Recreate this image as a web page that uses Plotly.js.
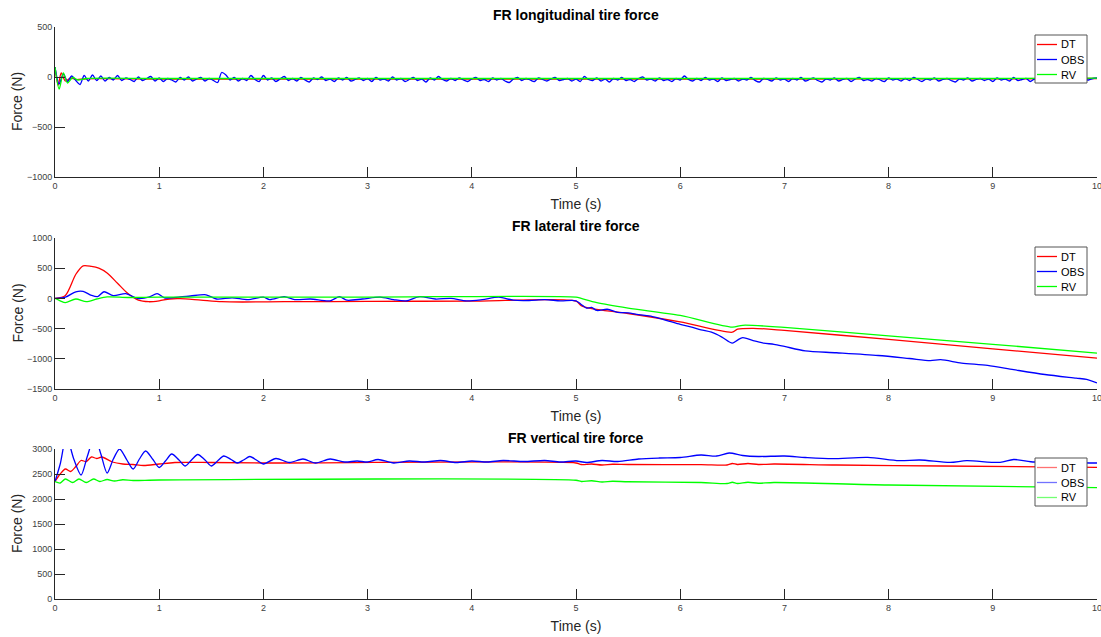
<!DOCTYPE html>
<html>
<head>
<meta charset="utf-8">
<script src="https://cdn.plot.ly/plotly-3.0.1.min.js"></script>
<style>html,body{margin:0;padding:0;background:#fff}#chart{width:1101px;height:637px}</style>
</head>
<body>
<div id="chart"></div>
<script>
// ---------- Panel 1: FR longitudinal tire force ----------
var p1_dt_t = [0, 0.03, 0.06, 0.1, 0.15, 0.2, 0.3, 1, 3, 5, 7, 9, 10];
var p1_dt_v = [100, -80, 40, -40, -10, -25, -18, -20, -20, -20, -20, -18, -15];
var p1_rv_t = [0, 0.04, 0.08, 0.12, 0.17, 0.22, 0.3, 1, 3, 5, 7, 9, 10];
var p1_rv_v = [100, -120, 40, -60, -5, -30, -15, -15, -15, -15, -15, -15, -12];
var p1_obs_dt = 0.04;
var p1_obs_v = [
 100,-70,30,-45,10,-35,-75,15,-40,20,-35,10,-40,-5,-30,15,-35,-10,-25,-45,0,-35,-15,5,-40,
 -10,-45,-15,-30,-50,-5,-30,0,-40,-20,-5,-40,-15,-35,-55,45,20,-30,-5,-40,-15,-35,15,-25,-45,
 15,-30,-10,-45,-20,5,-35,-15,-40,-5,-30,-50,-10,-25,0,-35,-20,-45,-10,-30,-5,-40,-25,-10,-35,
 -15,-45,-5,-30,-20,-40,0,-30,-15,-45,-25,-5,-35,-20,-50,-10,-30,5,-25,-40,-15,-35,-10,-30,-45,
 -20,-5,-35,-25,-45,-10,-30,-15,-40,-55,-20,-5,-35,-15,-30,-45,-10,-25,-40,-20,-5,-35,-25,-15,-40,
 -20,-45,5,-25,-35,-10,-40,-20,-50,-15,-30,-5,-35,-25,-45,-15,0,-30,-20,-40,-10,-35,-25,-45,-15,
 -30,10,-25,-40,-15,-35,-5,-30,-20,-45,-10,-35,-25,-15,-40,-20,-30,-5,-35,-50,-15,-25,-40,-10,-30,
 -20,-45,-15,-30,-5,-40,-25,-10,-35,-50,-20,-30,-10,-40,-25,-15,-45,-20,-5,-35,-25,-40,-15,-30,-45,
 -10,-30,-20,-40,-15,-35,-5,-25,-45,-20,-30,-10,-40,-25,-15,-35,-50,-20,-30,-10,-40,-25,-15,-35,-20,
 -45,-10,-30,-20,-40,-5,-35,-25,-15,-45,-20,-30,-10,-40,-25,-35,-15,-30,-45,-20,-10,-35,-25,-30,-15,
 -10];

// ---------- Panel 2: FR lateral tire force ----------
var p2_dt_t = [0,0.1,0.2,0.27,0.35,0.42,0.5,0.6,0.7,0.8,0.9,1.0,1.1,1.2,1.4,1.6,1.8,2.2,3,4,5,5.05,5.15,5.5,6,6.5,6.55,6.7,7,8,9,10];
var p2_dt_v = [0,50,400,540,530,500,420,250,80,-30,-55,-40,-10,-5,-30,-55,-60,-55,-50,-45,-45,-120,-170,-250,-390,-560,-510,-495,-530,-680,-835,-990];
var p2_obs_t = [0,0.1,0.2,0.27,0.35,0.41,0.47,0.56,0.68,0.79,0.9,0.98,1.05,1.2,1.3,1.45,1.55,1.7,1.85,2.0,2.06,2.2,2.3,2.45,2.64,2.73,2.8,2.95,3.12,3.25,3.37,3.5,3.65,3.8,3.95,4.1,4.26,4.4,4.55,4.7,4.85,5.0,
 5.05,5.1,5.15,5.2,5.3,5.4,5.5,5.6,5.7,5.8,5.9,6.0,6.1,6.2,6.3,6.4,6.5,6.55,6.6,6.7,6.8,6.9,7.0,7.2,7.5,7.9,8.2,8.4,8.5,8.7,8.95,9.2,9.5,9.8,9.9,10];
var p2_obs_v = [0,20,110,116,50,30,110,45,80,0,20,80,10,25,40,60,-10,10,-20,20,-20,30,-20,-10,-40,30,-30,-10,20,-20,-40,30,-10,0,-40,-20,20,-30,-35,-20,-40,-40,
 -100,-160,-150,-200,-180,-230,-240,-270,-290,-330,-380,-430,-470,-520,-560,-640,-740,-690,-650,-700,-740,-760,-795,-870,-900,-945,-995,-1030,-1015,-1070,-1110,-1180,-1260,-1320,-1340,-1400];
var p2_rv_t = [0,0.05,0.1,0.2,0.3,0.4,0.5,0.7,1,3,5,5.05,5.2,5.5,6,6.5,6.6,7,8,9,10];
var p2_rv_v = [0,-40,-70,-10,-55,-10,25,15,20,22,22,0,-70,-160,-282,-475,-445,-480,-620,-760,-905];

// ---------- Panel 3: FR vertical tire force ----------
var p3_dt_t = [0,0.05,0.1,0.15,0.2,0.25,0.3,0.35,0.4,0.45,0.55,0.65,0.75,0.85,1.0,1.15,1.5,2,5,5.05,5.15,5.25,5.35,5.5,6.2,6.45,6.5,6.55,6.65,6.75,6.9,7.5,8.5,10];
var p3_dt_v = [2350,2500,2600,2550,2650,2770,2750,2840,2810,2840,2740,2700,2690,2670,2700,2730,2730,2720,2720,2690,2700,2680,2695,2690,2686,2680,2710,2690,2710,2690,2700,2680,2660,2632];
var p3_obs_t = [0,0.05,0.11,0.18,0.25,0.31,0.38,0.44,0.5,0.56,0.62,0.69,0.75,0.81,0.87,0.94,1.0,1.06,1.12,1.19,1.25,1.31,1.37,1.44,1.5,1.56,1.62,1.69,1.75,1.81,1.87,1.94,2.0,2.12,2.25,2.38,2.5,2.64,2.78,2.9,3.0,3.1,3.25,3.4,3.55,3.7,3.85,4.0,4.15,4.3,4.5,4.7,4.85,5.0,5.1,5.25,5.4,5.6,5.8,6.0,6.2,6.35,6.47,6.6,6.75,7.0,7.2,7.46,7.8,8.1,8.3,8.59,8.75,9.07,9.2,9.4,9.6,9.8,10];
var p3_obs_v = [2350,2700,3250,2800,2480,2850,3250,2900,2520,2800,3000,2780,2600,2800,2960,2790,2630,2760,2900,2780,2660,2780,2890,2780,2660,2760,2860,2790,2720,2780,2850,2770,2700,2810,2730,2800,2720,2800,2740,2760,2740,2790,2720,2760,2740,2770,2730,2760,2740,2770,2750,2770,2740,2760,2730,2770,2750,2800,2820,2830,2880,2860,2920,2870,2850,2860,2830,2806,2833,2766,2780,2732,2766,2732,2790,2740,2760,2730,2720];
var p3_rv_t = [0,0.05,0.1,0.17,0.23,0.3,0.37,0.43,0.5,0.57,0.65,0.75,1.0,5,5.05,5.15,5.25,5.35,5.5,6.2,6.45,6.5,6.55,6.65,6.75,6.9,8,10];
var p3_rv_v = [2350,2320,2400,2330,2400,2330,2400,2350,2390,2360,2385,2370,2380,2375,2350,2365,2340,2355,2345,2330,2310,2335,2310,2335,2315,2330,2280,2226];

var seriesNames = ['DT', 'OBS', 'RV'];
var panelTitles = ['FR longitudinal tire force', 'FR lateral tire force', 'FR vertical tire force'];
var xLabel = 'Time (s)';
var yLabel = 'Force (N)';

// ---------- build ----------
var COLORS = ['#ff0000', '#0000ff', '#00ff00'];
var p1_obs_t = p1_obs_v.map(function (_, i) { return +(i * p1_obs_dt).toFixed(2); });

function tr(x, y, k, ax) {
  return {x: x, y: y, name: seriesNames[k], type: 'scatter', mode: 'lines',
    line: {color: COLORS[k], width: 1.3, shape: 'spline', smoothing: 0.8},
    xaxis: 'x' + (ax === 1 ? '' : ax), yaxis: 'y' + (ax === 1 ? '' : ax),
    showlegend: false};
}
var data = [
  tr(p1_dt_t, p1_dt_v, 0, 1), tr(p1_obs_t, p1_obs_v, 1, 1), tr(p1_rv_t, p1_rv_v, 2, 1),
  tr(p2_dt_t, p2_dt_v, 0, 2), tr(p2_obs_t, p2_obs_v, 1, 2), tr(p2_rv_t, p2_rv_v, 2, 2),
  tr(p3_dt_t, p3_dt_v, 0, 3), tr(p3_obs_t, p3_obs_v, 1, 3), tr(p3_rv_t, p3_rv_v, 2, 3)
];

var W = 1101, H = 637;
var xL = 55 / W, xR = 1097 / W;
function py(p) { return 1 - p / H; }
var AX = '#262626';
function xax(anchor) {
  return {domain: [xL, xR], range: [0, 10], dtick: 1, tick0: 0, ticks: 'inside', ticklen: 10,
    tickcolor: AX, showline: true, linecolor: AX, linewidth: 1, showgrid: false, zeroline: false,
    tickfont: {size: 9, color: '#404040'}, anchor: anchor, automargin: false,
    ticklabeloverflow: 'allow',
    title: {text: xLabel, font: {size: 14, color: '#262626'}, standoff: 9}};
}
function yax(top, bottom, range, anchor) {
  return {domain: [py(bottom), py(top)], range: range, dtick: 500, ticks: 'inside', ticklen: 10,
    tickcolor: AX, showline: true, linecolor: AX, linewidth: 1, showgrid: false, zeroline: false,
    tickfont: {size: 9, color: '#404040'}, anchor: anchor, automargin: false,
    ticklabeloverflow: 'allow'};
}
var shapes = [], annotations = [];
function ttl(text, p) {
  annotations.push({text: '<b>' + text + '</b>', xref: 'paper', yref: 'paper', x: (xL + xR) / 2, y: py(p),
    xanchor: 'center', yanchor: 'middle', showarrow: false, font: {size: 14, color: '#000'}});
}
function ylab(top, bottom) {
  annotations.push({text: yLabel, xref: 'paper', yref: 'paper', x: 17 / W, y: py((top + bottom) / 2),
    xanchor: 'center', yanchor: 'middle', textangle: -90, showarrow: false,
    font: {size: 14, color: '#262626'}});
}
// legend box per panel (top pixel of box)
function legendBox(top, fade) {
  var L = 1035, R = 1087, h = 48;
  shapes.push({type: 'rect', xref: 'paper', yref: 'paper', x0: L / W, x1: R / W, y0: py(top + h), y1: py(top),
    line: {color: '#555555', width: 1}, fillcolor: '#ffffff', layer: 'above'});
  for (var k = 0; k < 3; k++) {
    var yy = top + 9.5 + 15 * k;
    shapes.push({type: 'line', xref: 'paper', yref: 'paper', x0: 1037 / W, x1: 1057 / W, y0: py(yy), y1: py(yy),
      line: {color: COLORS[k], width: 1.3}, opacity: fade ? 0.55 : 1, layer: 'above'});
    annotations.push({text: seriesNames[k], xref: 'paper', yref: 'paper', x: 1059 / W, y: py(yy),
      xanchor: 'left', yanchor: 'middle', showarrow: false, font: {size: 11, color: '#000'}});
  }
}
ttl(panelTitles[0], 15); ttl(panelTitles[1], 226); ttl(panelTitles[2], 438);
ylab(27, 177); ylab(238, 389); ylab(449, 599);
legendBox(35, false); legendBox(247, false); legendBox(458, true);

var layout = {
  width: W, height: H, margin: {l: 0, r: 0, t: 0, b: 0, autoexpand: false},
  paper_bgcolor: '#fff', plot_bgcolor: '#fff',
  font: {family: 'Liberation Sans, Arial, sans-serif'},
  showlegend: false,
  xaxis: xax('y'), yaxis: yax(27, 177, [-1000, 500], 'x'),
  xaxis2: xax('y2'), yaxis2: yax(238, 389, [-1500, 1000], 'x2'),
  xaxis3: xax('y3'), yaxis3: yax(449, 599, [0, 3000], 'x3'),
  shapes: shapes, annotations: annotations
};
Plotly.newPlot('chart', data, layout, {displayModeBar: false, staticPlot: true});
</script>
</body>
</html>
